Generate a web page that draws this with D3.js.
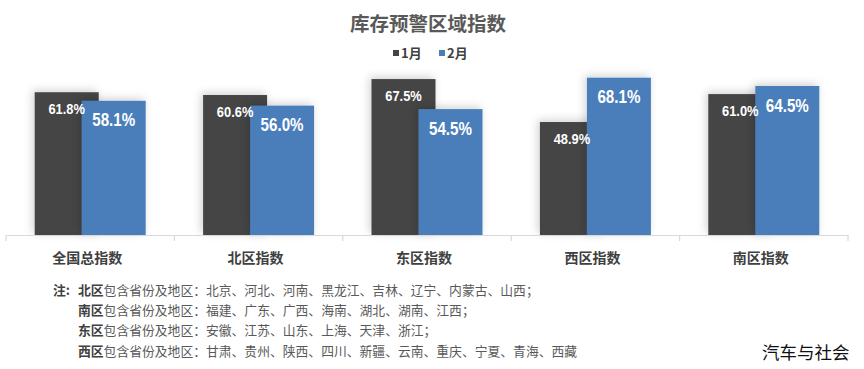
<!DOCTYPE html>
<html><head><meta charset="utf-8">
<script src="https://cdn.jsdelivr.net/npm/d3@7"></script>
<style>
body{margin:0;background:#fff;}
svg{display:block;}
</style></head>
<body>
<svg id="chart" width="864" height="369"></svg>
<script>
const categories = ["全国总指数","北区指数","东区指数","西区指数","南区指数"];
const seriesNames = ["1月","2月"];
const jan = [61.8, 60.6, 67.5, 48.9, 61.0];
const feb = [58.1, 56.0, 54.5, 68.1, 64.5];
const noteHeads = ["北区","南区","东区","西区"];
const noteBodies = [
  "北京、河北、河南、黑龙江、吉林、辽宁、内蒙古、山西；",
  "福建、广东、广西、海南、湖北、湖南、江西；",
  "安徽、江苏、山东、上海、天津、浙江；",
  "甘肃、贵州、陕西、四川、新疆、云南、重庆、宁夏、青海、西藏"
];

const colors = ["#454545", "#4a7ebb"];
const svg = d3.select("#chart");
const cjk = "'Noto Sans CJK SC','Noto Sans',sans-serif";
const narrow = "'Liberation Sans',Arial,sans-serif";

const defs = svg.append("defs");
const f = defs.append("filter").attr("id","sh").attr("x","-30%").attr("y","-30%").attr("width","160%").attr("height","160%");
f.append("feDropShadow").attr("dx",-2).attr("dy",-2).attr("stdDeviation",4).attr("flood-color","#000").attr("flood-opacity",0.18);

const x = d3.scaleBand().domain(categories).range([6, 848]).padding(0);
const y = d3.scaleLinear().domain([0, 100]).range([235, 4]);
const barW = 64, offset = 47;

// title
svg.append("text").attr("x", 428).attr("y", 31).attr("text-anchor","middle")
  .attr("font-family", cjk).attr("font-weight","bold").attr("font-size",19.5).attr("fill","#595959")
  .text("库存预警区域指数");

// legend
const legX = [393, 439];
seriesNames.forEach((s,i)=>{
  svg.append("rect").attr("x", legX[i]).attr("y", 50).attr("width",6).attr("height",6).attr("fill",colors[i]);
  svg.append("text").attr("x", legX[i]+8).attr("y", 58)
    .attr("font-family", cjk).attr("font-weight","bold").attr("font-size",13).attr("fill","#404040").text(s);
});

// bars
const g = svg.append("g");
const series = [jan, feb];
series.forEach((vals, si)=>{
  g.selectAll(null).data(categories).enter().append("rect")
    .attr("x", d => x(d) + x.bandwidth()/2 - 55.5 + si*offset)
    .attr("y", (d,i) => y(vals[i]))
    .attr("width", barW)
    .attr("height", (d,i) => y(0) - y(vals[i]))
    .attr("fill", colors[si])
    .attr("filter","url(#sh)");
});

// labels
series.forEach((vals, si)=>{
  g.selectAll(null).data(categories).enter().append("text")
    .attr("transform", (d,i) => {
      const cx = x(d) + x.bandwidth()/2 - 55.5 + si*offset + barW/2;
      const cy = y(vals[i]) + (si===0 ? 22 : 25.5);
      return `translate(${cx},${cy}) scale(${si===0 ? 0.83 : 0.82},1)`;
    })
    .attr("text-anchor","middle")
    .attr("font-family", narrow).attr("font-weight","bold")
    .attr("font-size", si===0 ? 15.5 : 18.5)
    .attr("fill","#fff")
    .text((d,i) => vals[i].toFixed(1) + "%");
});

// axis
const axis = d3.axisBottom(x).tickSize(0).tickFormat("");
const ag = svg.append("g").attr("transform","translate(0,235)").call(axis);
ag.select(".domain").attr("stroke","#d9d9d9").attr("stroke-width",1.2);
const bounds = categories.map(c => x(c)).concat([x(categories[categories.length-1]) + x.bandwidth()]);
svg.selectAll(null).data(bounds).enter().append("line")
  .attr("x1", d=>d).attr("x2", d=>d).attr("y1",235).attr("y2",241)
  .attr("stroke","#d9d9d9").attr("stroke-width",1.2);

svg.selectAll(null).data(categories).enter().append("text")
  .attr("x", d => x(d) + x.bandwidth()/2 - 3)
  .attr("y", 263)
  .attr("text-anchor","middle")
  .attr("font-family", cjk).attr("font-weight","bold").attr("font-size",14).attr("fill","#404040")
  .text(d=>d);

// notes
svg.append("text").attr("x", 53).attr("y", 295)
  .attr("font-family", cjk).attr("font-weight","bold").attr("font-size",12.8).attr("fill","#404040").text("注:");
noteHeads.forEach((h,i)=>{
  const t = svg.append("text").attr("x", 78).attr("y", 295 + i*20.2)
    .attr("font-family", cjk).attr("font-size",12.8).attr("fill","#595959");
  t.append("tspan").attr("font-weight","bold").attr("fill","#404040").text(h);
  t.append("tspan").text("包含省份及地区：" + noteBodies[i]);
});

// watermark
svg.append("text").attr("x", 762).attr("y", 359)
  .attr("font-family", cjk).attr("font-size",17.5).attr("fill","#111").text("汽车与社会");
</script>
</body></html>
